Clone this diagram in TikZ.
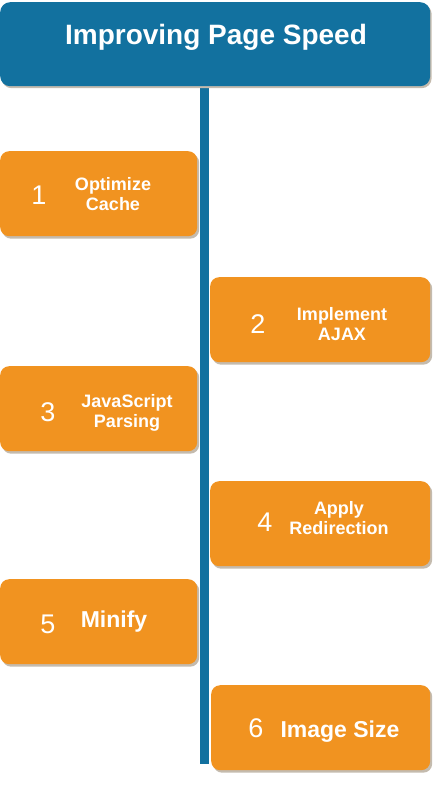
\documentclass[tikz,border=0pt]{standalone}
\usepackage{fontspec}
\setmainfont{Liberation Sans}
\usetikzlibrary{shadows}
\definecolor{tblue}{HTML}{12719F}
\definecolor{torange}{HTML}{F19320}
\definecolor{tshadow}{HTML}{C4BBAE}
\tikzset{
  px/.style={x=1pt,y=-1pt},
  stepbox/.style={fill=torange, draw=none, rounded corners=9pt, anchor=north west, inner sep=0pt,
    minimum width=#1pt, minimum height=85pt,
    drop shadow={shadow xshift=2pt, shadow yshift=-2.5pt, fill=tshadow, opacity=1}},
  stepbox/.default=197,
  num/.style={text=white, font=\fontsize{27}{27}\selectfont, inner sep=0pt, anchor=base},
  lbl/.style={text=white, font=\bfseries\fontsize{18}{20}\selectfont, align=center, inner sep=0pt},
  lblone/.style={text=white, font=\bfseries\fontsize{23}{23}\selectfont, inner sep=0pt, anchor=base},
}
\begin{document}
\begin{tikzpicture}[px]
\useasboundingbox (0,0) rectangle (433,803);
% spine
\fill[tblue] (200,80) rectangle (209,764);
% title
\node[fill=tblue, rounded corners=10pt, anchor=north west, minimum width=430pt, minimum height=84pt, inner sep=0pt,
  drop shadow={shadow xshift=1.5pt, shadow yshift=-2pt, fill=tshadow, opacity=1}] (title) at (0,2) {};
\node[text=white, font=\bfseries\fontsize{28}{28}\selectfont, inner sep=0pt, anchor=base] (titletext) at (216,44) {Improving Page Speed};
% boxes
\node[stepbox] (b1) at (0,151) {};
\node[num] (n1) at (39,204) {1};
\node[lbl] (t1) at (113,194) {Optimize\\Cache};

\node[stepbox=220] (b2) at (210,277) {};
\node[num] (n2) at (258,333) {2};
\node[lbl] (t2) at (342,324) {Implement\\AJAX};

\node[stepbox] (b3) at (0,366) {};
\node[num] (n3) at (48,421) {3};
\node[lbl] (t3) at (127,413) {JavaScript\\Parsing};

\node[stepbox=220] (b4) at (210,481) {};
\node[num] (n4) at (265,531) {4};
\node[lbl] (t4) at (339,518) {Apply\\Redirection};

\node[stepbox] (b5) at (0,579) {};
\node[num] (n5) at (48,633) {5};
\node[lblone] (t5) at (114,627) {Minify};

\node[stepbox=219] (b6) at (211,685) {};
\node[num] (n6) at (256,737) {6};
\node[lblone] (t6) at (340,737) {Image Size};
\end{tikzpicture}
\end{document}
